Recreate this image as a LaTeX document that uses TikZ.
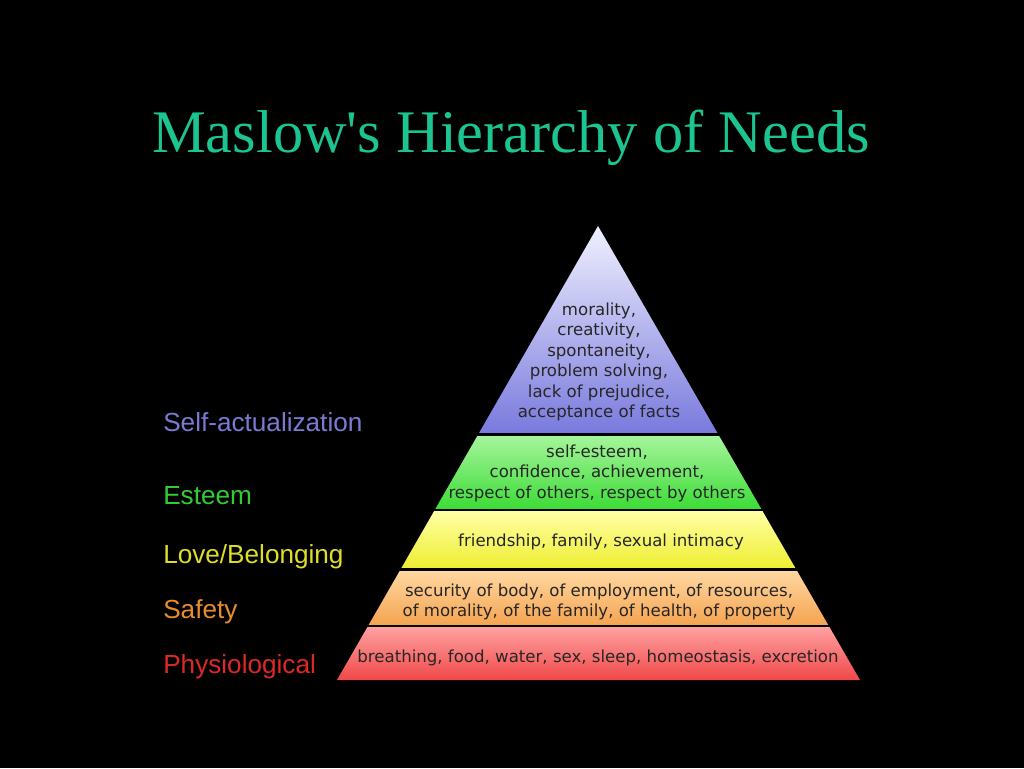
\documentclass[tikz,border=0pt]{standalone}
\usepackage{fontspec}
\newfontfamily\titlefont[Ligatures=TeXOff]{Liberation Serif}
\newfontfamily\labelfont{Liberation Sans}
\newfontfamily\layerfont{DejaVu Sans}
\usetikzlibrary{positioning}

\definecolor{titlegreen}{RGB}{28,196,146}
\definecolor{selfcol}{RGB}{122,122,210}
\definecolor{esteemcol}{RGB}{52,204,52}
\definecolor{lovecol}{RGB}{222,222,40}
\definecolor{safecol}{RGB}{232,140,48}
\definecolor{physcol}{RGB}{222,40,40}
\definecolor{selftop}{RGB}{240,240,255}
\definecolor{selfbot}{RGB}{122,122,222}
\definecolor{esteemtop}{RGB}{165,245,155}
\definecolor{esteembot}{RGB}{62,220,56}
\definecolor{lovetop}{RGB}{255,255,165}
\definecolor{lovebot}{RGB}{238,238,50}
\definecolor{safetop}{RGB}{255,215,160}
\definecolor{safebot}{RGB}{245,165,82}
\definecolor{phystop}{RGB}{255,160,160}
\definecolor{physbot}{RGB}{240,72,72}

\begin{document}
\begin{tikzpicture}[x=0.25mm, y=-0.25mm,
    lvl/.style={anchor=base west, inner sep=0pt,
                font=\labelfont\fontsize{18.6}{20}\selectfont},
    layertext/.style={align=center, inner sep=0pt, text=black!85,
                font=\layerfont\fontsize{11.8}{14.6}\selectfont}]
  \fill[black] (0,0) rectangle (1024,768);
  \useasboundingbox (0,0) rectangle (1024,768);

  \node[anchor=base, inner sep=0pt, text=titlegreen,
        font=\titlefont\fontsize{43}{48}\selectfont] (title) at (511,152)
        {Maslow's Hierarchy of Needs};

  % pyramid
  \coordinate (apex) at (598,226);
  \coordinate (baseL) at (337,680);
  \coordinate (baseR) at (860,680);
  \begin{scope}
    \clip (apex) -- (baseL) -- (baseR) -- cycle;
    \shade[top color=selftop, bottom color=selfbot] (330,226) rectangle (870,432);
    \shade[top color=esteemtop, bottom color=esteembot] (330,436) rectangle (870,508);
    \shade[top color=lovetop, bottom color=lovebot] (330,511) rectangle (870,567.5);
    \shade[top color=safetop, bottom color=safebot] (330,571) rectangle (870,624);
    \shade[top color=phystop, bottom color=physbot] (330,627.5) rectangle (870,680);
  \end{scope}

  \node[layertext] (tself) at (599,362) {morality,\\creativity,\\spontaneity,\\problem solving,\\lack of prejudice,\\acceptance of facts};
  \node[layertext] (testeem) at (597,473) {self-esteem,\\confidence, achievement,\\respect of others, respect by others};
  \node[layertext] (tlove) at (601,542) {friendship, family, sexual intimacy};
  \node[layertext] (tsafe) at (599,602) {security of body, of employment, of resources,\\of morality, of the family, of health, of property};
  \node[layertext] (tphys) at (598,658) {breathing, food, water, sex, sleep, homeostasis, excretion};

  % level names
  \node[lvl, text=selfcol] (lself) at (163,431) {Self-actualization};
  \node[lvl, text=esteemcol] (lesteem) at (163,504) {Esteem};
  \node[lvl, text=lovecol] (llove) at (163,563) {Love/Belonging};
  \node[lvl, text=safecol] (lsafe) at (163,618) {Safety};
  \node[lvl, text=physcol] (lphys) at (163,673) {Physiological};
\end{tikzpicture}
\end{document}
